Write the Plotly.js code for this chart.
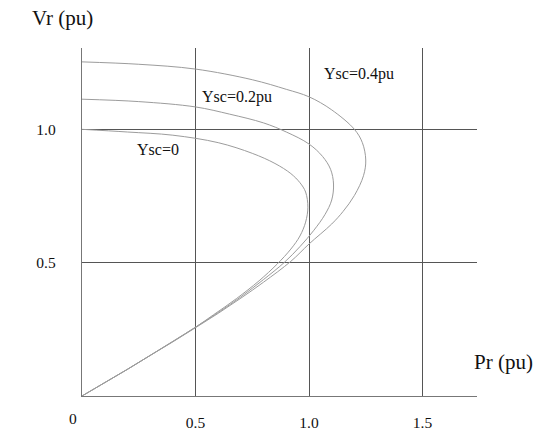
<!DOCTYPE html>
<html>
<head>
<meta charset="utf-8">
<script src="https://cdn.plot.ly/plotly-3.0.1.min.js"></script>
<style>html,body{margin:0;padding:0;background:#fff;}#chart{width:550px;height:431px;}</style>
</head>
<body>
<div id="chart"></div>
<script>
// Ysc = 0
const P0 = [0, 0.2, 0.4, 0.6, 0.75, 0.85, 0.92, 0.96, 0.985, 0.995, 0.985, 0.96, 0.92, 0.86, 0.78, 0.68, 0.58, 0.5, 0.4, 0.3, 0.2, 0.1, 0];
const V0 = [1.0, 0.99, 0.978, 0.95, 0.91, 0.872, 0.834, 0.80, 0.765, 0.708, 0.652, 0.60, 0.551, 0.495, 0.432, 0.365, 0.305, 0.258, 0.205, 0.152, 0.10, 0.05, 0];
// Ysc = 0.2 pu
const P2 = [0, 0.25, 0.5, 0.65, 0.8, 0.9, 1.0, 1.06, 1.095, 1.108, 1.1, 1.07, 1.02, 0.96, 0.89, 0.8, 0.7, 0.6, 0.5, 0.4, 0.3, 0.2, 0.1, 0];
const V2 = [1.113, 1.104, 1.084, 1.057, 1.024, 0.99, 0.945, 0.898, 0.85, 0.795, 0.735, 0.68, 0.62, 0.56, 0.5, 0.437, 0.372, 0.313, 0.258, 0.204, 0.152, 0.10, 0.05, 0];
// Ysc = 0.4 pu
const P4 = [0, 0.25, 0.5, 0.75, 0.9, 1.0, 1.1, 1.2, 1.235, 1.25, 1.24, 1.2, 1.15, 1.1, 1.0, 0.92, 0.8, 0.7, 0.6, 0.5, 0.4, 0.3, 0.2, 0.1, 0];
const V4 = [1.253, 1.244, 1.226, 1.186, 1.15, 1.122, 1.073, 1.0, 0.95, 0.885, 0.826, 0.752, 0.692, 0.645, 0.57, 0.505, 0.427, 0.367, 0.31, 0.256, 0.203, 0.152, 0.10, 0.05, 0];

const xTickVals = [0.5, 1.0, 1.5];
const xTickText = ['0.5', '1.0', '1.5'];
const yTickVals = [0.5, 1.0];
const yTickText = ['0.5', '1.0'];

const curveColor = '#9c9c9c';
const mk = (x, y, name) => ({x: x, y: y, name: name, type: 'scatter', mode: 'lines',
  line: {color: curveColor, width: 1, shape: 'spline', smoothing: 1}, hoverinfo: 'skip'});

const data = [mk(P0, V0, 'Ysc=0'), mk(P2, V2, 'Ysc=0.2pu'), mk(P4, V4, 'Ysc=0.4pu')];

const serif = 'Liberation Serif';
const txt = '#111';
const layout = {
  width: 550, height: 431,
  margin: {l: 82, r: 73, t: 48, b: 35},
  paper_bgcolor: '#fff', plot_bgcolor: '#fff',
  showlegend: false,
  font: {family: serif, size: 15, color: txt},
  xaxis: {
    range: [0, 1.74], tickvals: xTickVals, ticktext: xTickText,
    showgrid: true, gridcolor: '#555', gridwidth: 1,
    zeroline: false, showline: true, linecolor: '#777', linewidth: 1.2,
    ticks: '', ticklabelstandoff: 12, tickfont: {family: serif, size: 15.5, color: txt}
  },
  yaxis: {
    range: [0, 1.305], tickvals: yTickVals, ticktext: yTickText,
    showgrid: true, gridcolor: '#555', gridwidth: 1,
    zeroline: false, showline: true, linecolor: '#777', linewidth: 1.2,
    ticks: '', ticklabelstandoff: 22, tickfont: {family: serif, size: 15.5, color: txt}
  },
  annotations: [
    {text: 'Vr (pu)', xref: 'paper', yref: 'paper', x: 0, y: 1.0, xshift: -20, yshift: 30, xanchor: 'center', yanchor: 'middle', showarrow: false, font: {family: serif, size: 21, color: txt}},
    {text: 'Pr (pu)', xref: 'paper', yref: 'y', x: 1.0, y: 0, xshift: 26, yshift: 34, xanchor: 'center', yanchor: 'middle', showarrow: false, font: {family: serif, size: 21, color: txt}},
    {text: '0', xref: 'x', yref: 'paper', x: 0, y: 0, xshift: -9, yshift: -22, xanchor: 'center', yanchor: 'middle', showarrow: false, font: {family: serif, size: 15.5, color: txt}},
    {text: 'Ysc=0.4pu', xref: 'x', yref: 'y', x: 1.222, y: 1.208, showarrow: false, font: {family: serif, size: 16, color: txt}},
    {text: 'Ysc=0.2pu', xref: 'x', yref: 'y', x: 0.681, y: 1.122, showarrow: false, font: {family: serif, size: 16, color: txt}},
    {text: 'Ysc=0', xref: 'x', yref: 'y', x: 0.333, y: 0.923, showarrow: false, font: {family: serif, size: 16, color: txt}}
  ]
};

Plotly.newPlot('chart', data, layout, {staticPlot: true, displayModeBar: false});
</script>
</body>
</html>
